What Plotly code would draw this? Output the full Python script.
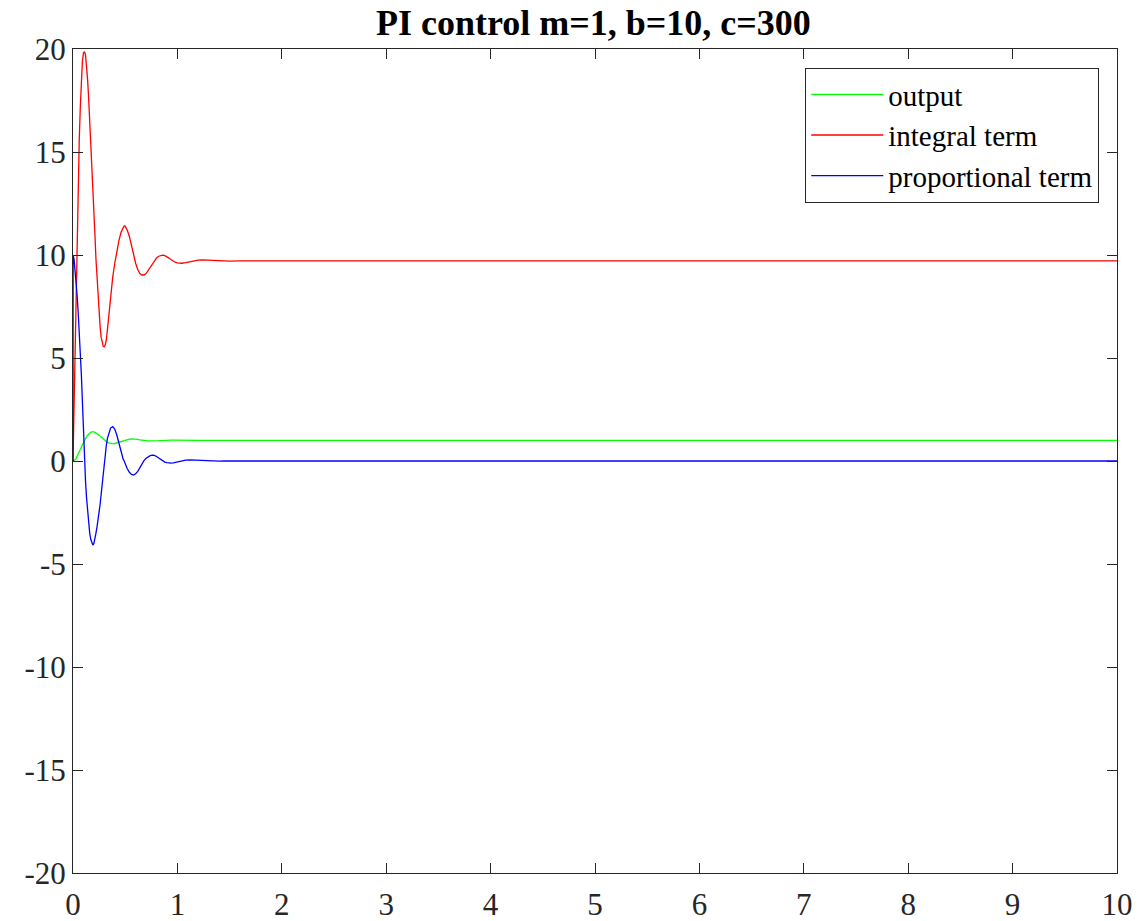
import plotly.graph_objects as go

# time samples (s)
t_early = [0.0, 0.001, 0.01, 0.02, 0.03, 0.04, 0.05, 0.06, 0.07, 0.08, 0.09, 0.10, 0.11, 0.12, 0.13, 0.14,
           0.15, 0.16, 0.17, 0.18, 0.19, 0.20, 0.21, 0.22, 0.23, 0.24, 0.25, 0.26, 0.27, 0.28, 0.29,
           0.30, 0.31, 0.32, 0.33, 0.34, 0.36, 0.38, 0.40, 0.42, 0.44, 0.46, 0.48, 0.49, 0.50, 0.52,
           0.54, 0.56, 0.58, 0.60, 0.62, 0.64, 0.66, 0.68, 0.70, 0.72, 0.74, 0.76, 0.78, 0.80, 0.82,
           0.84, 0.86, 0.88, 0.90, 0.92, 0.94, 0.96, 0.98, 1.00, 1.04, 1.08, 1.12, 1.16, 1.20, 1.24,
           1.28, 1.32, 1.36, 1.40, 1.45, 1.50, 1.60, 2, 3, 4, 5, 6, 7, 8, 9, 10]

output = [0.0, 0.0, 0.015, 0.06, 0.13, 0.22, 0.33, 0.45, 0.56, 0.68, 0.79, 0.90, 1.0, 1.1, 1.18, 1.25,
          1.31, 1.36, 1.39, 1.41, 1.42, 1.41, 1.39, 1.36, 1.33, 1.29, 1.25, 1.21, 1.16, 1.11, 1.05,
          1.0, 0.96, 0.93, 0.90, 0.88, 0.85, 0.84, 0.85, 0.88, 0.92, 0.96, 0.99, 1.0, 1.02, 1.04,
          1.06, 1.07, 1.07, 1.06, 1.05, 1.03, 1.01, 1.0, 0.99, 0.98, 0.975, 0.97, 0.972, 0.978, 0.985,
          0.99, 1.0, 1.005, 1.008, 1.01, 1.01, 1.01, 1.007, 1.004, 1.0, 0.996, 0.995, 0.996, 0.998, 1.0,
          1.001, 1.002, 1.002, 1.001, 1.0, 1.0, 1.0, 1.0, 1.0, 1.0, 1.0, 1.0, 1.0, 1.0, 1.0, 1.0]

integral_term = [0.0, 0.0, 2.9, 5.8, 8.6, 11.2, 13.6, 15.6, 17.2, 18.5, 19.4, 19.8, 19.87, 19.7, 19.2, 18.5,
                 17.6, 16.6, 15.6, 14.6, 13.5, 12.3, 11.0, 9.8, 8.8, 7.9, 7.1, 6.5, 6.0, 5.7, 5.56,
                 5.55, 5.65, 5.9, 6.4, 7.0, 8.0, 8.9, 9.6, 10.2, 10.7, 11.1, 11.35, 11.41, 11.4, 11.2,
                 10.9, 10.45, 10.0, 9.6, 9.3, 9.1, 9.03, 9.03, 9.1, 9.25, 9.43, 9.6, 9.75, 9.86, 9.94,
                 9.98, 9.99, 9.97, 9.92, 9.85, 9.77, 9.7, 9.65, 9.62, 9.6, 9.63, 9.68, 9.72, 9.75, 9.76,
                 9.75, 9.72, 9.7, 9.69, 9.69, 9.7, 9.71, 9.71, 9.71, 9.71, 9.71, 9.71, 9.71, 9.71, 9.71, 9.71]

proportional_term = [0.0, 10.0, 9.8, 9.3, 8.7, 8.0, 7.2, 6.3, 5.3, 4.2, 2.9, 1.4, 0.1, -1.0, -1.8, -2.5,
                     -3.05, -3.5, -3.8, -4.0, -4.08, -4.0, -3.8, -3.5, -3.2, -2.9, -2.5, -2.1, -1.6, -1.1, -0.5,
                     0.1, 0.5, 0.8, 1.1, 1.3, 1.6, 1.67, 1.55, 1.25, 0.85, 0.45, 0.1, 0.0, -0.15, -0.38,
                     -0.55, -0.65, -0.68, -0.62, -0.5, -0.33, -0.12, 0.02, 0.13, 0.21, 0.26, 0.28, 0.27, 0.22, 0.15,
                     0.07, 0.0, -0.05, -0.08, -0.1, -0.1, -0.09, -0.07, -0.04, 0.01, 0.04, 0.05, 0.04, 0.02, 0.0,
                     -0.01, -0.02, -0.02, -0.01, 0.0, 0.0, 0.0, 0.0, 0.0, 0.0, 0.0, 0.0, 0.0, 0.0, 0.0, 0.0]

series_names = ["output", "integral term", "proportional term"]
series_colors = ["#00FF00", "#FF0000", "#0000FF"]
series_values = [output, integral_term, proportional_term]

x_ticks = list(range(0, 11))
x_tick_labels = [str(v) for v in x_ticks]
y_ticks = list(range(-20, 21, 5))
y_tick_labels = [str(v) for v in y_ticks]  # plain hyphen-minus, as in the reference

fig = go.Figure()
for name, color, vals in zip(series_names, series_colors, series_values):
    fig.add_trace(go.Scatter(x=t_early, y=vals, mode="lines", name=name,
                             line=dict(color=color, width=1.3)))

axis_common = dict(
    showgrid=False, zeroline=False, showline=True, mirror="ticks",
    linecolor="#262626", linewidth=1, ticks="inside", ticklen=10,
    tickcolor="#262626", tickwidth=1, automargin=False,
    tickfont=dict(family="Liberation Serif", size=31, color="#262626"),
)

fig.update_layout(
    width=1139, height=921,
    margin=dict(l=73, r=22, t=49, b=48, autoexpand=False),
    paper_bgcolor="white", plot_bgcolor="white",
    title=dict(text="<b>PI control m=1, b=10, c=300</b>", x=0.521, xanchor="center",
               y=0.976, yanchor="middle",
               font=dict(family="Liberation Serif", size=36, color="black")),
    xaxis=dict(range=[0, 10], tickvals=x_ticks, ticktext=x_tick_labels,
               ticklabelstandoff=4, **axis_common),
    yaxis=dict(range=[-20, 20], tickvals=y_ticks, ticktext=y_tick_labels, **axis_common),
    legend=dict(x=0.983, y=0.977, xanchor="right", yanchor="top",
                bgcolor="white", bordercolor="#262626", borderwidth=1,
                font=dict(family="Liberation Serif", size=29, color="black"),
                tracegroupgap=0, itemwidth=72),
    showlegend=True,
)

fig.write_html("out.html")
